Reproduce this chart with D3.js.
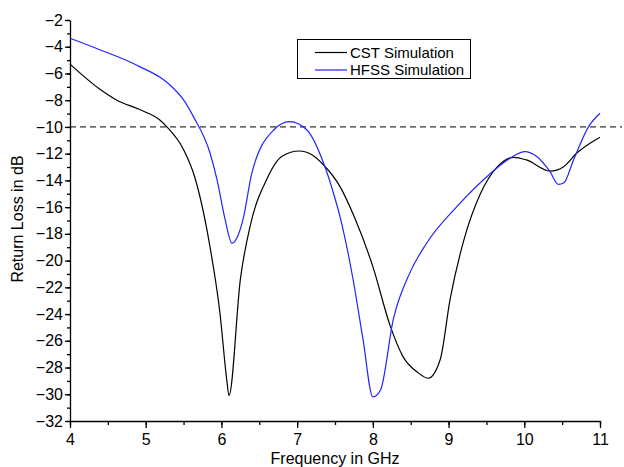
<!DOCTYPE html>
<html>
<head>
<meta charset="utf-8">
<script src="https://cdn.jsdelivr.net/npm/d3@7"></script>
<style>
  body { margin: 0; background: #fff; }
  text { font-family: "Liberation Sans", Arial, sans-serif; }
</style>
</head>
<body>
<svg width="624" height="467"></svg>
<script>
// CST simulation (frequency GHz, return loss dB)
const cstFreq = [4.0, 4.4, 4.62, 4.92, 5.19, 5.28, 5.5, 5.65, 5.85, 5.98, 6.07, 6.1, 6.25, 6.38, 6.6, 6.8, 7.03, 7.2, 7.35, 7.57, 7.76, 8.0, 8.23, 8.4, 8.6, 8.73, 8.89, 9.02, 9.2, 9.42, 9.64, 9.86, 10.03, 10.34, 10.52, 10.69, 11.0];
const cstLoss = [-5.3, -7.2, -8.0, -8.7, -9.5, -10.0, -11.7, -13.8, -19.0, -23.9, -28.9, -30.1, -21.4, -17.4, -13.9, -12.2, -11.8, -12.1, -12.85, -14.5, -16.8, -20.45, -24.9, -27.2, -28.4, -28.8, -27.4, -22.9, -18.5, -15.0, -13.0, -12.27, -12.47, -13.3, -12.97, -11.97, -10.77];

// HFSS simulation
const hfssFreq = [4.0, 4.4, 4.83, 4.92, 5.19, 5.32, 5.5, 5.63, 5.85, 5.94, 6.05, 6.14, 6.22, 6.29, 6.4, 6.69, 6.9, 7.13, 7.35, 7.48, 7.57, 7.74, 7.87, 8.0, 8.1, 8.27, 8.49, 8.71, 9.11, 9.55, 9.81, 10.01, 10.16, 10.34, 10.45, 10.52, 10.65, 10.85, 11.0];
const hfssLoss = [-3.37, -4.24, -5.24, -5.49, -6.29, -6.86, -7.98, -9.23, -11.97, -13.9, -16.96, -18.7, -18.1, -16.8, -13.5, -10.23, -9.6, -10.23, -12.72, -14.96, -16.8, -21.45, -25.9, -30.2, -29.7, -24.4, -20.9, -18.7, -15.96, -13.5, -12.35, -11.85, -12.2, -13.35, -14.3, -14.2, -12.47, -9.98, -8.98];

const xTicks = [4, 5, 6, 7, 8, 9, 10, 11];
const yTicks = [-2, -4, -6, -8, -10, -12, -14, -16, -18, -20, -22, -24, -26, -28, -30, -32];
const threshold = -10;
const seriesNames = ["CST Simulation", "HFSS Simulation"];
const seriesColors = ["#000000", "#2323ff"];

const svg = d3.select("svg");
const x = d3.scaleLinear().domain([4, 11]).range([70, 600]);
const y = d3.scaleLinear().domain([-2, -32]).range([20, 421]);

// Axes with minor ticks
const minorX = d3.range(4, 11.01, 0.5);
const minorY = d3.range(-2, -32.01, -1);

svg.append("g")
  .attr("transform", `translate(0,${y(-32)})`)
  .call(d3.axisBottom(x).tickValues(minorX).tickSize(4).tickFormat(""))
  .call(g => g.select(".domain").remove());
svg.append("g")
  .attr("transform", `translate(0,${y(-32)})`)
  .call(d3.axisBottom(x).tickValues(xTicks).tickSize(7).tickSizeOuter(0).tickPadding(6).tickFormat(d3.format("d")))
  .call(g => g.selectAll("text").attr("font-size", 16).attr("fill", "#000"));

svg.append("g")
  .attr("transform", `translate(${x(4)},0)`)
  .call(d3.axisLeft(y).tickValues(minorY).tickSize(3).tickFormat(""))
  .call(g => g.select(".domain").remove());
svg.append("g")
  .attr("transform", `translate(${x(4)},0)`)
  .call(d3.axisLeft(y).tickValues(yTicks).tickSize(5).tickSizeOuter(0).tickPadding(2).tickFormat(d3.format("d")))
  .call(g => g.selectAll("text").attr("font-size", 16).attr("fill", "#000"));

svg.selectAll(".domain, .tick line").attr("stroke", "#000").attr("stroke-width", 1.3);

// Threshold line
svg.append("line")
  .attr("x1", x(4)).attr("x2", 622)
  .attr("y1", y(threshold)).attr("y2", y(threshold))
  .attr("stroke", "#000").attr("stroke-dasharray", "6,4");

// Curves
const line = d3.line().x(d => x(d[0])).y(d => y(d[1])).curve(d3.curveMonotoneX);
const series = [d3.zip(cstFreq, cstLoss), d3.zip(hfssFreq, hfssLoss)];
series.forEach((s, i) => {
  svg.append("path")
    .datum(s)
    .attr("fill", "none")
    .attr("stroke", seriesColors[i])
    .attr("stroke-width", 1.2)
    .attr("d", line);
});

// Legend
const legend = svg.append("g");
legend.append("rect")
  .attr("x", 297.5).attr("y", 39.5).attr("width", 173).attr("height", 39)
  .attr("fill", "#fff").attr("stroke", "#000");
seriesNames.forEach((name, i) => {
  const ly = 52.5 + i * 17.5;
  legend.append("line").attr("x1", 315).attr("x2", 347).attr("y1", ly).attr("y2", ly)
    .attr("stroke", seriesColors[i]).attr("stroke-width", 1.2);
  legend.append("text").attr("x", 350).attr("y", ly + 5).attr("font-size", 15).text(name);
});

// Axis titles
svg.append("text")
  .attr("x", 335).attr("y", 464)
  .attr("text-anchor", "middle").attr("font-size", 16)
  .text("Frequency in GHz");
svg.append("text")
  .attr("transform", `translate(23,219) rotate(-90)`)
  .attr("text-anchor", "middle").attr("font-size", 16)
  .text("Return Loss in dB");
</script>
</body>
</html>
